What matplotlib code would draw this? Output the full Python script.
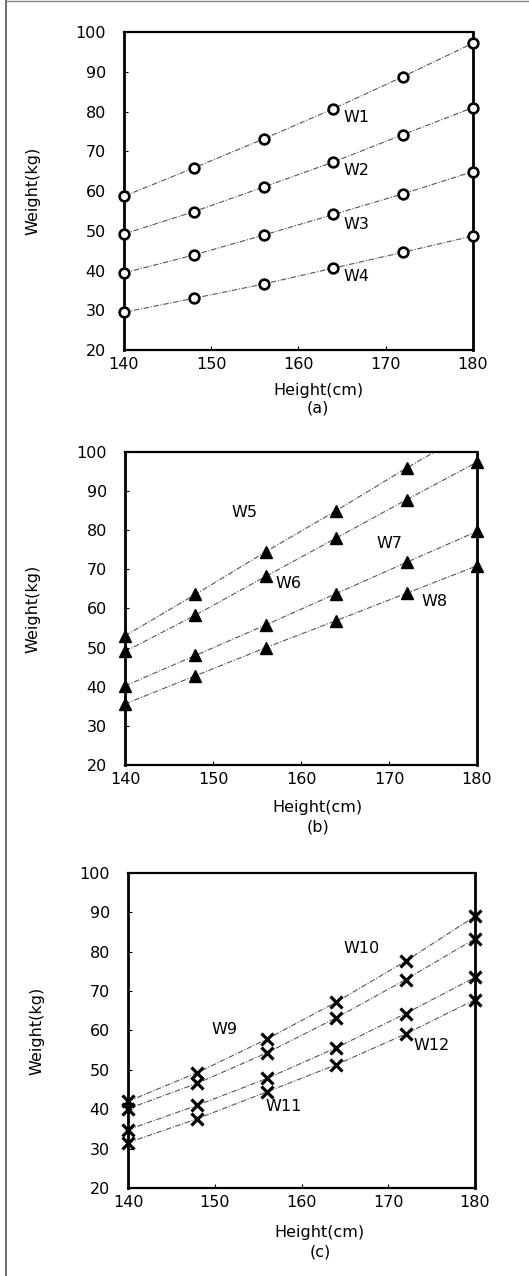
import matplotlib
matplotlib.use('Agg')
import matplotlib.pyplot as plt
from matplotlib.lines import Line2D

plt.rcParams['font.family'] = ['DejaVu Sans']

heights = [140, 148, 156, 164, 172, 180]

# panel (a)
w1 = [58.7, 65.8, 73.1, 80.7, 88.8, 97.2]
w2 = [49.2, 54.8, 61.0, 67.3, 74.2, 81.0]
w3 = [39.4, 43.9, 48.9, 54.1, 59.3, 64.9]
w4 = [29.5, 33.0, 36.6, 40.6, 44.6, 48.7]

# panel (b)
w5 = [53.0, 63.6, 74.5, 85.0, 95.9, 106.3]
w6 = [49.0, 58.3, 68.2, 78.0, 87.8, 97.4]
w7 = [40.2, 48.0, 55.8, 63.8, 71.8, 79.7]
w8 = [35.6, 42.8, 50.0, 56.9, 63.9, 70.9]

# panel (c)
w9 = [42.0, 49.3, 57.8, 67.2, 77.6, 89.0]
w10 = [40.1, 46.6, 54.3, 63.2, 72.9, 83.3]
w11 = [34.8, 41.0, 47.8, 55.6, 64.3, 73.5]
w12 = [31.5, 37.6, 44.4, 51.3, 59.1, 67.8]

labels_a = ['W1', 'W2', 'W3', 'W4']
labels_b = ['W5', 'W6', 'W7', 'W8']
labels_c = ['W9', 'W10', 'W11', 'W12']

# label anchor positions (data coords)
pos_a = [(165.2, 78.4), (165.2, 65.2), (165.2, 51.7), (165.2, 38.5)]
pos_b = [(152.1, 84.4), (157.1, 66.3), (168.6, 76.7), (173.7, 61.8)]
pos_c = [(149.6, 60.2), (164.8, 80.7), (155.8, 40.7), (172.9, 56.2)]

FS = 11.5

fig = plt.figure(figsize=(5.29, 12.76), dpi=100)

panels = [
    ([0.2344, 0.7257, 0.6597, 0.2492], [w1, w2, w3, w4], labels_a, pos_a,
     dict(marker='o', mfc='white', mec='black', ms=7, mew=1.9), '(a)', (0.556, -0.126, -0.182)),
    ([0.2363, 0.4005, 0.6654, 0.2453], [w5, w6, w7, w8], labels_b, pos_b,
     dict(marker='^', mfc='black', mec='black', ms=8.5, mew=1), '(b)', (0.548, -0.137, -0.198)),
    ([0.2420, 0.0690, 0.6560, 0.2469], [w9, w10, w11, w12], labels_c, pos_c,
     dict(marker='x', mfc='black', mec='black', ms=8, mew=2.3), '(c)', (0.553, -0.14, -0.203)),
]

for rect, series, labs, pos, mstyle, tag, tpos in panels:
    ax = fig.add_axes(rect)
    for ys in series:
        ax.plot(heights, ys, color='#555555', lw=0.8, ls=(0, (5, 1.5, 1, 1.5)),
                clip_on=True, zorder=2)
        # markers only for points inside the plotted range
        xs_in = [x for x, y in zip(heights, ys) if y <= 100]
        ys_in = [y for y in ys if y <= 100]
        ax.plot(xs_in, ys_in, ls='none', clip_on=False, zorder=3, **mstyle)
    for lab, (x, y) in zip(labs, pos):
        ax.text(x, y, lab, fontsize=FS, ha='left', va='center')
    ax.set_xlim(140, 180)
    ax.set_ylim(20, 100)
    ax.set_xticks([140, 150, 160, 170, 180])
    ax.set_yticks(range(20, 101, 10))
    ax.tick_params(direction='in', length=3, width=0.8, labelsize=FS)
    ax.tick_params(axis='y', pad=13)
    ax.tick_params(axis='x', pad=5)
    for side in ['left', 'right']:
        ax.spines[side].set_linewidth(2.0)
    for side in ['top', 'bottom']:
        ax.spines[side].set_linewidth(1.6)
    ax.set_ylabel('Weight(kg)', fontsize=FS)
    ax.yaxis.set_label_coords(-0.24, 0.5)
    ax.text(tpos[0], tpos[1], 'Height(cm)', transform=ax.transAxes,
            fontsize=FS, ha='center', va='center')
    ax.text(tpos[0], tpos[2], tag, transform=ax.transAxes,
            fontsize=FS, ha='center', va='center')

# page border of the scan
fig.add_artist(Line2D([0.011, 0.011], [0.0, 1.0], transform=fig.transFigure,
                      color='#555555', lw=1.2))
fig.add_artist(Line2D([0.011, 1.0], [0.999, 0.999], transform=fig.transFigure,
                      color='#888888', lw=1.0))

fig.savefig('out.png', dpi=100)
